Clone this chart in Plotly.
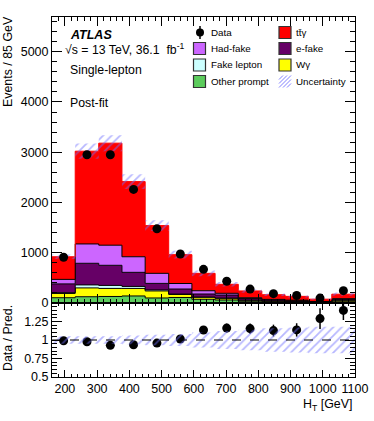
import numpy as np
import plotly.graph_objects as go

# H_T bin edges [GeV]
edges = [160, 232, 305, 377, 449, 522, 594, 666, 738, 811, 883, 955, 1028, 1100]

# post-fit predictions per bin (events)
other_prompt = [105, 125, 130, 140, 100, 110, 74, 60, 35, 25, 20, 10, 25]
w_gamma = [85, 175, 160, 150, 140, 60, 40, 34, 20, 15, 12, 8, 30]
fake_lepton = [15, 60, 60, 40, 20, 8, 5, 4, 3, 2, 2, 1, 3]
e_fake = [175, 430, 400, 280, 130, 100, 60, 60, 30, 20, 15, 6, 20]
had_fake = [90, 385, 400, 310, 200, 110, 65, 35, 17, 10, 8, 4, 8]
ttgamma = [450, 1845, 2030, 1495, 950, 574, 346, 179, 135, 93, 75, 47, 89]

data = [911, 2950, 2950, 2260, 1475, 975, 670, 432, 277, 186, 150, 98, 245]
ratio_err = [0.01, 0.01, 0.01, 0.01, 0.02, 0.03, 0.04, 0.06, 0.07, 0.08, 0.09, 0.14, 0.13]
rel_unc = [0.05, 0.05, 0.05, 0.06, 0.07, 0.08, 0.10, 0.12, 0.14, 0.16, 0.17, 0.18, 0.18]

edges = np.array(edges)
centers = 0.5 * (edges[:-1] + edges[1:])

# stacking order, bottom to top
stack = [
    ("Other prompt", other_prompt, "#5ccc5c", "black"),
    ("Wγ", w_gamma, "#ffff00", "black"),
    ("Fake lepton", fake_lepton, "#ccffff", "black"),
    ("e-fake", e_fake, "#660066", "black"),
    ("Had-fake", had_fake, "#cc66ff", "black"),
    ("tt̄γ", ttgamma, "#ff0000", "#ff0000"),
]


def step(vals):
    vals = list(vals)
    return vals + [vals[-1]]


fig = go.Figure()

cum = np.zeros(len(centers))
for i, (name, vals, col, lcol) in enumerate(stack):
    cum = cum + np.array(vals)
    fig.add_trace(go.Scatter(x=edges, y=step(cum), mode="lines", line_shape="hv",
                             line=dict(color=lcol, width=1), fill="tozeroy" if i == 0 else "tonexty",
                             fillcolor=col, name=name, showlegend=False, xaxis="x", yaxis="y"))
total = cum

hatch = dict(shape="/", fgcolor="#6f6fff", bgcolor="rgba(0,0,0,0)", size=6, solidity=0.3)

# uncertainty band on the main panel
fig.add_trace(go.Scatter(x=edges, y=step(total * (1 - np.array(rel_unc))), mode="lines", line_shape="hv",
                         line=dict(width=0), showlegend=False, xaxis="x", yaxis="y"))
fig.add_trace(go.Scatter(x=edges, y=step(total * (1 + np.array(rel_unc))), mode="lines", line_shape="hv",
                         line=dict(width=0), fill="tonexty", fillcolor="rgba(0,0,0,0)", fillpattern=hatch,
                         showlegend=False, xaxis="x", yaxis="y"))

fig.add_trace(go.Scatter(x=centers, y=data, mode="markers", marker=dict(color="black", size=9),
                         showlegend=False, xaxis="x", yaxis="y"))

# ratio panel
ratio = np.array(data) / total
fig.add_trace(go.Scatter(x=centers, y=ratio, mode="markers", marker=dict(color="black", size=9),
                         error_y=dict(type="data", array=ratio_err, color="black", thickness=1.5, width=0),
                         showlegend=False, xaxis="x2", yaxis="y2"))
fig.add_trace(go.Scatter(x=edges, y=step(1 - np.array(rel_unc)), mode="lines", line_shape="hv",
                         line=dict(width=0), showlegend=False, xaxis="x2", yaxis="y2"))
fig.add_trace(go.Scatter(x=edges, y=step(1 + np.array(rel_unc)), mode="lines", line_shape="hv",
                         line=dict(width=0), fill="tonexty", fillcolor="rgba(0,0,0,0)", fillpattern=hatch,
                         showlegend=False, xaxis="x2", yaxis="y2"))

fig.add_shape(type="line", x0=edges[0], x1=edges[-1], y0=1, y1=1, xref="x2", yref="y2",
              line=dict(color="black", width=1, dash="dash"))

# pixel helpers for the plot area (52..355 x, 17..377 y)
L, R, T, B = 52, 355, 17, 377


def px(x):
    return (x - L) / (R - L)


def py(y):
    return (B - y) / (B - T)


split = py(303)
font = "Liberation Sans, Arial, sans-serif"

axis_common = dict(showline=True, linecolor="black", linewidth=1, mirror="ticks", ticks="inside",
                   showgrid=False, zeroline=False, tickcolor="black", automargin=False,
                   tickfont=dict(size=12.5, color="black"))

fig.update_layout(
    width=374, height=421,
    margin=dict(l=L, r=374 - R, t=T, b=421 - B),
    paper_bgcolor="white", plot_bgcolor="white",
    font=dict(family=font, color="black"),
    showlegend=False,
    xaxis=dict(domain=[0, 1], anchor="y", range=[edges[0], edges[-1]], showticklabels=False,
               dtick=100, tick0=0, ticklen=9, minor=dict(dtick=20, tick0=0, ticklen=4, ticks="inside", tickcolor="black"),
               **axis_common),
    yaxis=dict(domain=[split, 1], anchor="x", range=[0, 5690], dtick=1000, ticklen=10,
               minor=dict(dtick=200, ticklen=5, ticks="inside", tickcolor="black"), **axis_common),
    xaxis2=dict(domain=[0, 1], anchor="y2", range=[edges[0], edges[-1]], matches="x",
                tickvals=[200, 300, 400, 500, 600, 700, 800, 900, 1000, 1100], ticklen=7,
                minor=dict(dtick=20, tick0=0, ticklen=3, ticks="inside", tickcolor="black"), **axis_common),
    yaxis2=dict(domain=[0, split], anchor="x2", range=[0.5, 1.5], tickvals=[0.5, 0.75, 1, 1.25], ticklen=10,
                minor=dict(dtick=0.05, ticklen=5, ticks="inside", tickcolor="black"), **axis_common),
)

ann = []


def text(x, y, s, size=12.3, xanchor="left", **kw):
    ann.append(dict(x=px(x), y=py(y), xref="paper", yref="paper", text=s, showarrow=False,
                    xanchor=xanchor, yanchor="middle", font=dict(size=size, color="black", family=font), **kw))


text(68, 35, "<b><i>ATLAS</i></b>", size=12.5)
text(63, 49, "√s = 13 TeV, 36.1  fb<sup>-1</sup>")
text(68, 70, "Single-lepton")
text(68, 103, "Post-fit")
text(8, 62, "Events / 85 GeV", size=12.4, xanchor="center", textangle=-90)
text(8, 338, "Data / Pred.", size=12.4, xanchor="center", textangle=-90)
text(354, 405, "H<sub>T</sub> [GeV]", size=12.4, xanchor="right")

# legend drawn by hand, two columns
col1_box, col1_txt = 193.5, 208.5
col2_box, col2_txt = 279, 294
rows = [32.5, 48.5, 65, 81.5]
legend1 = [("Had-fake", "#cc66ff"), ("Fake lepton", "#ccffff"), ("Other prompt", "#5ccc5c")]
legend2 = [("tt̄γ", "#ff0000"), ("e-fake", "#660066"), ("Wγ", "#ffff00")]

shapes = []
# data marker
shapes.append(dict(type="line", x0=px(200), x1=px(200), y0=py(26), y1=py(39), xref="paper", yref="paper",
                   line=dict(color="black", width=1.5)))
shapes.append(dict(type="circle", x0=px(196), x1=px(204), y0=py(28.5), y1=py(36.5), xref="paper", yref="paper",
                   fillcolor="black", line=dict(color="black", width=0)))
text(col1_txt, rows[0], "Data", size=9.8)

for (name, col), y in zip(legend1, rows[1:]):
    shapes.append(dict(type="rect", x0=px(col1_box), x1=px(col1_box + 12), y0=py(y - 6), y1=py(y + 6),
                       xref="paper", yref="paper", fillcolor=col, line=dict(color="#333333", width=1.2)))
    text(col1_txt, y, name, size=9.8)
for (name, col), y in zip(legend2, rows[:3]):
    shapes.append(dict(type="rect", x0=px(col2_box), x1=px(col2_box + 12), y0=py(y - 6), y1=py(y + 6),
                       xref="paper", yref="paper", fillcolor=col, line=dict(color="#333333", width=1.2)))
    text(col2_txt, y, name, size=9.8)

# hatched box for the uncertainty
y0, y1 = rows[3] + 6, rows[3] - 6
for k in range(-12, 13, 4):
    xa, ya = col2_box + k, y0
    xb, yb = col2_box + k + 12, y1
    # clip to the box
    if xa < col2_box:
        ya = ya - (col2_box - xa)
        xa = col2_box
    if xb > col2_box + 12:
        yb = yb + (xb - col2_box - 12)
        xb = col2_box + 12
    if xb > xa:
        shapes.append(dict(type="line", x0=px(xa), x1=px(xb), y0=py(ya), y1=py(yb), xref="paper", yref="paper",
                           line=dict(color="#8080ff", width=1)))
text(col2_txt, rows[3], "Uncertainty", size=9.8)

fig.update_layout(annotations=ann, shapes=list(fig.layout.shapes) + shapes)

# page body has a default margin; drop it so the figure fills the window
fig.write_html("out.html", config={"displayModeBar": False},
               post_script="document.body.style.margin='0';")
